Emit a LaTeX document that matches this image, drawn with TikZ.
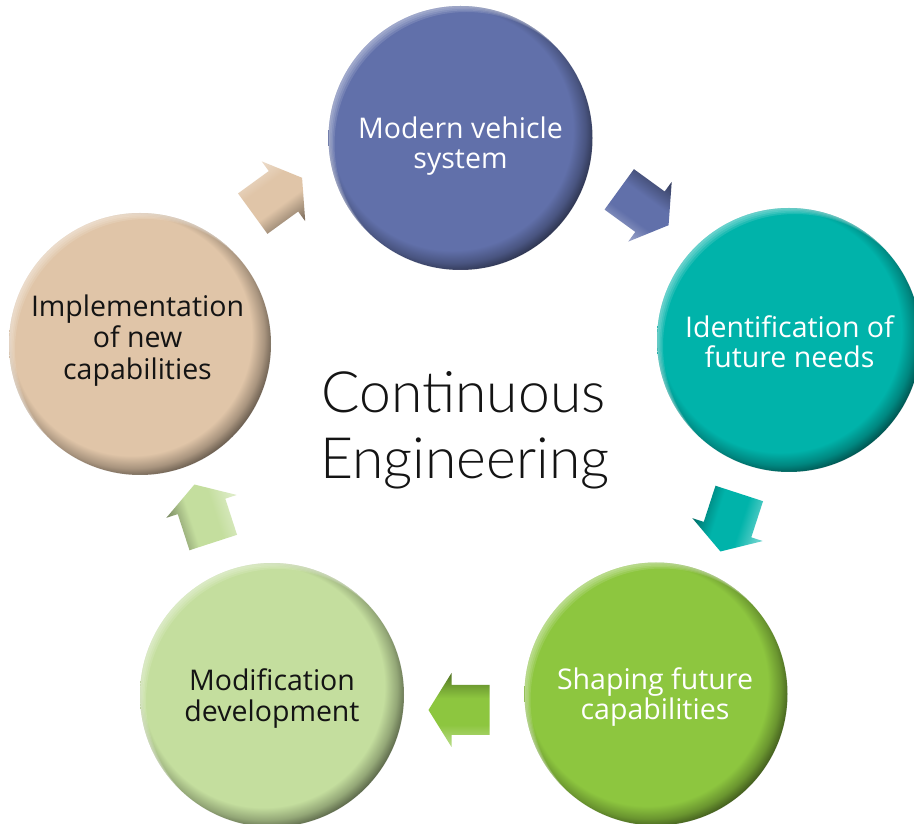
\documentclass[tikz,border=0pt]{standalone}
\usepackage{fontspec}
\setmainfont{Open Sans}
\newfontfamily\thinfont{Lato Light}
\usetikzlibrary{calc}
\definecolor{cA}{RGB}{97,112,170}
\definecolor{cB}{RGB}{0,179,170}
\definecolor{cC}{RGB}{141,198,63}
\definecolor{cD}{RGB}{196,222,158}
\definecolor{cE}{RGB}{224,197,168}
\colorlet{cAdark}{cA!45!black}
\colorlet{cBdark}{cB!45!black}
\colorlet{cCdark}{cC!45!black}
\colorlet{cDdark}{cD!45!black}
\colorlet{cEdark}{cE!45!black}
\definecolor{txtdark}{RGB}{20,20,20}
\newcommand\declshades[1]{%
  \colorlet{tmpD}{#1dark!75!#1}\colorlet{tmpL}{#1!60!white}\colorlet{tmpM}{#1}%
  \pgfdeclareverticalshading{arr#1}{100bp}{color(0bp)=(tmpL); color(25bp)=(tmpL); color(40bp)=(tmpM); color(58bp)=(tmpM); color(75bp)=(tmpD); color(100bp)=(tmpD)}%
  \colorlet{tmpR}{#1dark}\colorlet{tmpS}{#1!55!#1dark}%
  \pgfdeclareradialshading{ball#1}{\pgfpoint{-3bp}{3bp}}{color(0bp)=(tmpM); color(22.9bp)=(tmpM); color(25.2bp)=(tmpS); color(27bp)=(tmpR); color(50bp)=(tmpR)}%
}
\declshades{cA}
\declshades{cB}
\declshades{cC}
\declshades{cD}
\declshades{cE}
\tikzset{
  lbl/.style={anchor=base, inner sep=0pt, font=\fontsize{28.5}{30}\selectfont},
  big/.style={anchor=base, inner sep=0pt, font=\thinfont\fontsize{57}{66}\selectfont, text=txtdark}
}
\newcommand\ball[4]{%
  \shade[shading=ball#4] (#1,#2) circle (#3);
  \begin{scope}
    \clip (#1,#2) circle (#3);
    \foreach \j in {1,...,4}{%
      \fill[white,opacity=0.12,even odd rule] (#1,#2) circle (#3) ({#1+\j*1.5},{#2-\j*1.5}) circle (#3);
    }
  \end{scope}
}
\newcommand\barrow[5]{%
  \shade[shading=arr#4, shading angle=#5]
   ($(#1,#2)+(#3+180:30)+(#3+90:25)$) -- ($(#1,#2)+(#3:8)+(#3+90:25)$) --
   ($(#1,#2)+(#3:8)+(#3+90:37)$) -- ($(#1,#2)+(#3:31)$) --
   ($(#1,#2)+(#3:8)+(#3-90:37)$) -- ($(#1,#2)+(#3:8)+(#3-90:25)$) --
   ($(#1,#2)+(#3+180:30)+(#3-90:25)$) -- cycle;
}
\begin{document}
\begin{tikzpicture}[x=1pt,y=1pt]
\useasboundingbox (0,0) rectangle (914,823);
\clip (0,0) rectangle (914,823);
\fill[white] (0,0) rectangle (914,823);
% circles
\coordinate (c1) at (460.5,685);
\coordinate (c2) at (789,483);
\coordinate (c3) at (656,129);
\coordinate (c4) at (272,128);
\coordinate (c5) at (140,479);
\ball{460.5}{685}{132}{cA}
\ball{789}{483}{132}{cB}
\ball{656}{129}{131.5}{cC}
\ball{272}{128}{132}{cD}
\ball{140}{479}{131}{cE}
% arrows
\barrow{277}{627}{36}{cE}{-144}
\barrow{643.5}{616}{-36}{cA}{-36}
\barrow{730}{301}{-108}{cB}{72}
\barrow{459.5}{113}{180}{cC}{0}
\barrow{204}{309}{108}{cD}{108}
% labels
\node[lbl,text=white] (t1a) at (460.5,684) {Modern vehicle};
\node[lbl,text=white] (t1b) at (460.5,654) {system};
\node[lbl,text=white] (t2a) at (789.5,485) {Identification of};
\node[lbl,text=white] (t2b) at (789.5,455) {future needs};
\node[lbl,text=white] (t3a) at (655,133) {Shaping future};
\node[lbl,text=white] (t3b) at (655,103) {capabilities};
\node[lbl,text=txtdark] (t4a) at (272,132) {Modification};
\node[lbl,text=txtdark] (t4b) at (272,101) {development};
\node[lbl,text=txtdark] (t5a) at (137.5,506) {Implementation};
\node[lbl,text=txtdark] (t5b) at (137.5,475) {of new};
\node[lbl,text=txtdark] (t5c) at (137.5,443) {capabilities};
\node[big] (ce1) at (463.5,410) {Continuous};
\node[big] (ce2) at (465,344) {Engineering};
\end{tikzpicture}
\end{document}
